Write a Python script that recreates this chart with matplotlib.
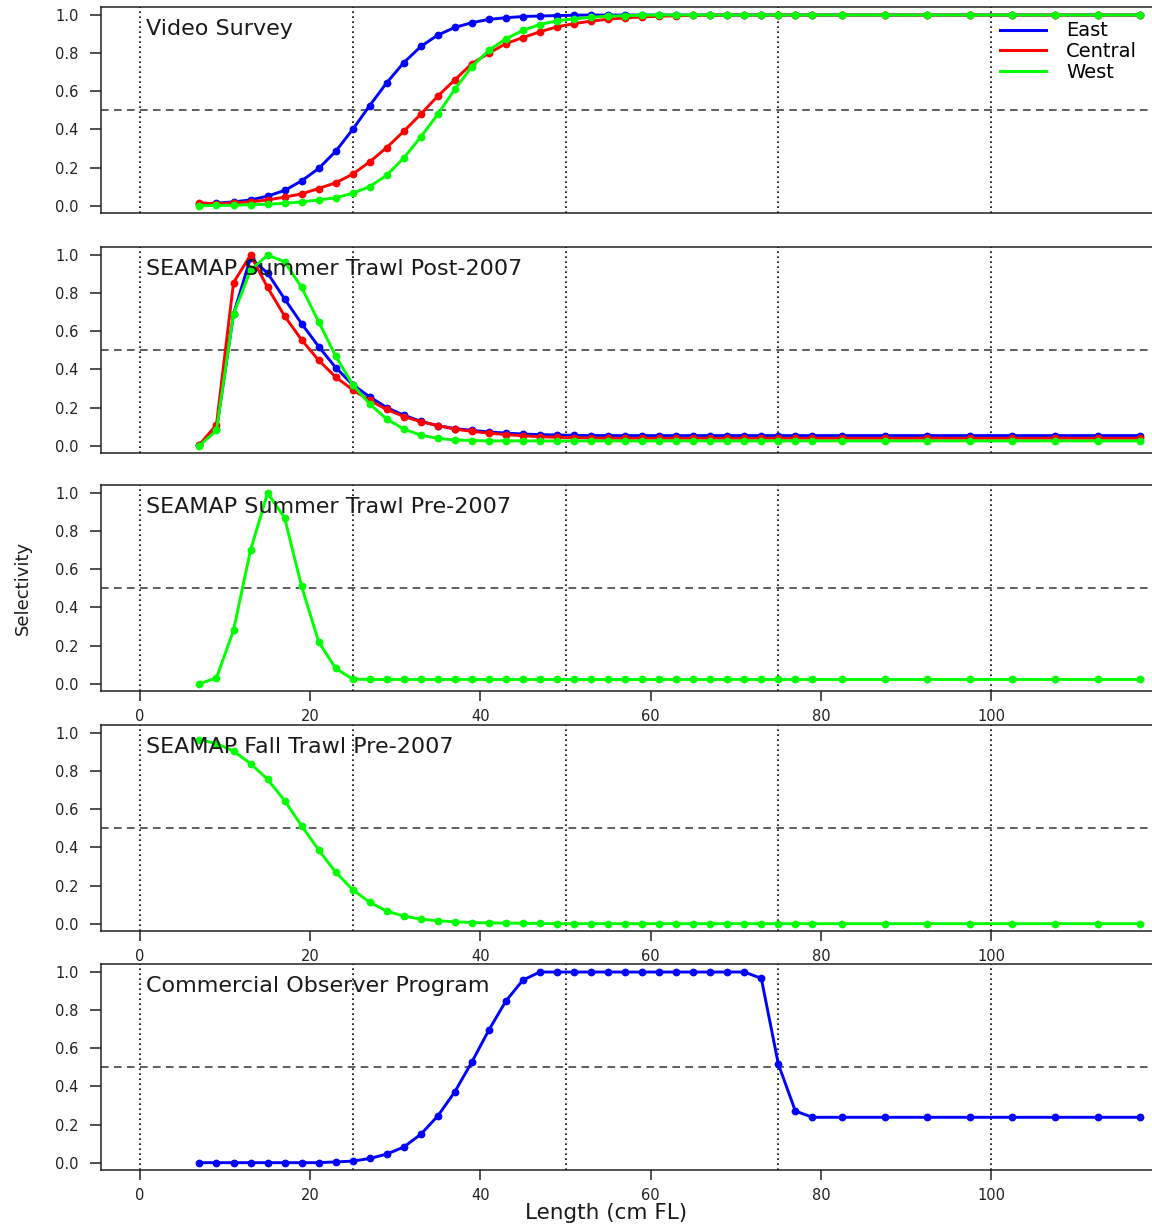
import matplotlib
matplotlib.use("Agg")
import matplotlib.pyplot as plt

plt.rcParams['font.family'] = ['DejaVu Sans']

# ---------------- data ----------------
length_cm = [7, 9, 11, 13, 15, 17, 19, 21, 23, 25, 27, 29, 31, 33, 35, 37, 39, 41, 43,
             45, 47, 49, 51, 53, 55, 57, 59, 61, 63, 65, 67, 69, 71, 73, 75, 77, 79,
             82.5, 87.5, 92.5, 97.5, 102.5, 107.5, 112.5, 117.5]

video_east = [0.010, 0.013, 0.020, 0.030, 0.050, 0.080, 0.130, 0.195, 0.285, 0.400,
              0.525, 0.645, 0.750, 0.835, 0.895, 0.935, 0.960, 0.977, 0.986, 0.992,
              0.995, 0.997, 0.999, 1.0, 1.0, 1.0, 1.0, 1.0, 1.0, 1.0, 1.0, 1.0, 1.0,
              1.0, 1.0, 1.0, 1.0, 1.0, 1.0, 1.0, 1.0, 1.0, 1.0, 1.0, 1.0]
video_central = [0.015, 0.010, 0.015, 0.020, 0.030, 0.045, 0.062, 0.090, 0.120, 0.165,
                 0.230, 0.305, 0.390, 0.480, 0.575, 0.660, 0.745, 0.800, 0.850, 0.882,
                 0.912, 0.938, 0.955, 0.968, 0.978, 0.985, 0.990, 0.994, 0.996, 0.998,
                 0.999, 1.0, 1.0, 1.0, 1.0, 1.0, 1.0, 1.0, 1.0, 1.0, 1.0, 1.0, 1.0,
                 1.0, 1.0]
video_west = [0.000, 0.001, 0.002, 0.005, 0.008, 0.012, 0.020, 0.030, 0.042, 0.065,
              0.100, 0.160, 0.250, 0.360, 0.480, 0.610, 0.730, 0.815, 0.875, 0.920,
              0.950, 0.970, 0.980, 0.988, 0.994, 0.997, 0.999, 1.0, 1.0, 1.0, 1.0,
              1.0, 1.0, 1.0, 1.0, 1.0, 1.0, 1.0, 1.0, 1.0, 1.0, 1.0, 1.0, 1.0, 1.0]

post_east = [0.005, 0.085, 0.690, 0.985, 0.905, 0.770, 0.640, 0.520, 0.410, 0.320,
             0.256, 0.200, 0.160, 0.128, 0.105, 0.090, 0.080, 0.072, 0.066, 0.061,
             0.058, 0.056, 0.054, 0.053, 0.053, 0.053, 0.053, 0.053, 0.053, 0.053,
             0.053, 0.053, 0.053, 0.053, 0.053, 0.053, 0.053, 0.053, 0.053, 0.053,
             0.053, 0.053, 0.053, 0.053, 0.053]
post_central = [0.005, 0.110, 0.855, 1.000, 0.830, 0.680, 0.555, 0.448, 0.360, 0.293,
                0.237, 0.190, 0.153, 0.126, 0.105, 0.087, 0.075, 0.066, 0.058, 0.052,
                0.047, 0.044, 0.042, 0.040, 0.039, 0.039, 0.039, 0.039, 0.039, 0.039,
                0.039, 0.039, 0.039, 0.039, 0.039, 0.039, 0.039, 0.039, 0.039, 0.039,
                0.039, 0.039, 0.039, 0.039, 0.039]
post_west = [0.000, 0.080, 0.690, 0.920, 1.000, 0.965, 0.830, 0.650, 0.470, 0.320,
             0.218, 0.140, 0.087, 0.055, 0.038, 0.030, 0.027, 0.025, 0.025, 0.025,
             0.025, 0.025, 0.025, 0.025, 0.025, 0.025, 0.025, 0.025, 0.025, 0.025,
             0.025, 0.025, 0.025, 0.025, 0.025, 0.025, 0.025, 0.025, 0.025, 0.025,
             0.025, 0.025, 0.025, 0.025, 0.025]

pre_summer_west = [0.000, 0.030, 0.280, 0.700, 1.000, 0.870, 0.510, 0.220, 0.080, 0.024,
                   0.022, 0.022, 0.022, 0.022, 0.022, 0.022, 0.022, 0.022, 0.022, 0.022,
                   0.022, 0.022, 0.022, 0.022, 0.022, 0.022, 0.022, 0.022, 0.022, 0.022,
                   0.022, 0.022, 0.022, 0.022, 0.022, 0.022, 0.022, 0.022, 0.022, 0.022,
                   0.022, 0.022, 0.022, 0.022, 0.022]

pre_fall_west = [0.965, 0.945, 0.905, 0.840, 0.757, 0.646, 0.513, 0.387, 0.270, 0.178,
                 0.112, 0.066, 0.040, 0.024, 0.015, 0.010, 0.006, 0.004, 0.003, 0.002,
                 0.001, 0.0, 0.0, 0.0, 0.0, 0.0, 0.0, 0.0, 0.0, 0.0, 0.0, 0.0, 0.0,
                 0.0, 0.0, 0.0, 0.0, 0.0, 0.0, 0.0, 0.0, 0.0, 0.0, 0.0, 0.0]

observer_east = [0.0, 0.0, 0.0, 0.0, 0.0, 0.0, 0.0, 0.0, 0.004, 0.008, 0.022, 0.045,
                 0.082, 0.149, 0.245, 0.372, 0.528, 0.696, 0.848, 0.958, 1.0, 1.0,
                 1.0, 1.0, 1.0, 1.0, 1.0, 1.0, 1.0, 1.0, 1.0, 1.0, 1.0, 0.967, 0.517,
                 0.271, 0.238, 0.238, 0.238, 0.238, 0.238, 0.238, 0.238, 0.238, 0.238]

region_names = ["East", "Central", "West"]
region_colors = ["#0000FF", "#FF0000", "#00FF00"]
panel_titles = ["Video Survey", "SEAMAP Summer Trawl Post-2007",
                "SEAMAP Summer Trawl Pre-2007", "SEAMAP Fall Trawl Pre-2007",
                "Commercial Observer Program"]
x_ticks = [0, 20, 40, 60, 80, 100]
y_ticks = [0.0, 0.2, 0.4, 0.6, 0.8, 1.0]
vlines = [0, 25, 50, 75, 100]

panels = [
    [(video_east, 0), (video_central, 1), (video_west, 2)],
    [(post_east, 0), (post_central, 1), (post_west, 2)],
    [(pre_summer_west, 2)],
    [(pre_fall_west, 2)],
    [(observer_east, 0)],
]
show_xlabels = [False, False, True, True, True]

# ---------------- figure ----------------
W, H = 1152, 1226
fig = plt.figure(figsize=(W / 100, H / 100), dpi=100)

left_px, right_px = 100.7, 1158.0
tops_px = [7.4, 247.4, 485.4, 725.4, 964.4]
h_px = 205.9

for i, ax_top in enumerate(tops_px):
    ax = fig.add_axes([left_px / W, 1 - (ax_top + h_px) / H,
                       (right_px - left_px) / W, h_px / H])
    ax.set_xlim(-4.6, 119.6)
    ax.set_ylim(-0.04, 1.04)
    for v in vlines:
        ax.axvline(v, color="black", lw=1.2, ls=(0, (1, 2)), zorder=1)
    ax.axhline(0.5, color="#333333", lw=1.1, ls=(0, (5, 3.5)), zorder=1)
    for series, ci in panels[i]:
        ax.plot(length_cm, series, color=region_colors[ci], lw=2.1,
                marker="o", ms=4.6, mec=region_colors[ci], mfc=region_colors[ci],
                label=region_names[ci], zorder=3)
    ax.text(0.7, 0.925, panel_titles[i], fontsize=16, color="#1a1a1a",
            ha="left", va="center", zorder=4)
    ax.set_yticks(y_ticks)
    ax.set_yticklabels(["%.1f" % t for t in y_ticks])
    ax.tick_params(axis="y", length=8, width=1.1, pad=8, labelsize=10.5,
                   colors="#222222")
    if show_xlabels[i]:
        ax.set_xticks(x_ticks)
        ax.set_xticklabels([str(t) for t in x_ticks])
        ax.tick_params(axis="x", length=7, width=1.1, pad=6, labelsize=10.5,
                       colors="#222222")
    else:
        ax.set_xticks([])
    for s in ax.spines.values():
        s.set_linewidth(1.1)
        s.set_color("#222222")
    if i == 0:
        leg = ax.legend(loc="upper left",
                        bbox_to_anchor=((1000 - left_px) / (right_px - left_px),
                                        1 - 14 / h_px),
                        frameon=False, fontsize=14, handlelength=2.35,
                        handletextpad=1.05, labelspacing=0.09, borderpad=0,
                        borderaxespad=0)
        for lh in leg.get_lines():
            lh.set_marker("")
            lh.set_linewidth(2.2)

fig.text(606 / W, 1 - 1213 / H, "Length (cm FL)", ha="center", va="center",
         fontsize=15.5, color="#1a1a1a")
fig.text(23 / W, 1 - 588 / H, "Selectivity", ha="center", va="center",
         rotation=90, fontsize=13, color="#1a1a1a")

fig.savefig("out.png", dpi=100)
